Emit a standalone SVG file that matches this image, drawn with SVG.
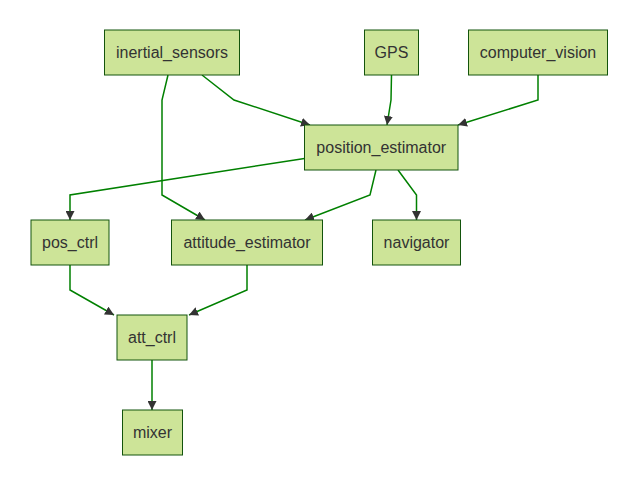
<svg xmlns="http://www.w3.org/2000/svg" width="631" height="484" viewBox="0 0 631 484">
<style>
.node rect{fill:#cde498;stroke:#13540c;stroke-width:1}
.node text{font-family:"Liberation Sans",Arial,sans-serif;font-size:16px;fill:#333;text-anchor:middle;dominant-baseline:central}
.edges path{fill:none;stroke:#008000;stroke-width:1.5;marker-end:url(#arrow)}
</style>
<defs>
<marker id="arrow" viewBox="0 0 10 10" refX="10" refY="5" markerWidth="9" markerHeight="9" markerUnits="userSpaceOnUse" orient="auto">
<path d="M0,0 L10,5 L0,10 z" fill="#333"/>
</marker>
</defs>
<rect width="631" height="484" fill="#ffffff"/>
<g class="edges">
<path d="M202,75 L234,100 L310,125"/>
<path d="M168,75 L162,100 L162,195 L205,220"/>
<path d="M391.5,75 L391,100 L387,125"/>
<path d="M538,75 L538,100 L458,125"/>
<path d="M304.5,158.5 L70,195 L70,220"/>
<path d="M376,170 L370,195 L305,220"/>
<path d="M398,170 L416.5,195 L416.5,220"/>
<path d="M70,265 L70,290 L114,315"/>
<path d="M247,265 L247,290 L189,315"/>
<path d="M152,360 L152,410"/>
</g>
<g id="inertial_sensors" class="node"><rect x="104.5" y="30" width="135" height="45"/><text x="172" y="52.5">inertial_sensors</text></g>
<g id="GPS" class="node"><rect x="364.5" y="30" width="54" height="45"/><text x="391.5" y="52.5">GPS</text></g>
<g id="computer_vision" class="node"><rect x="468.5" y="30" width="139" height="45"/><text x="538" y="52.5">computer_vision</text></g>
<g id="position_estimator" class="node"><rect x="304.5" y="125" width="153.5" height="45"/><text x="381.25" y="147.5">position_estimator</text></g>
<g id="pos_ctrl" class="node"><rect x="31" y="220" width="78" height="45"/><text x="70" y="242.5">pos_ctrl</text></g>
<g id="attitude_estimator" class="node"><rect x="171.5" y="220" width="151" height="45"/><text x="247" y="242.5">attitude_estimator</text></g>
<g id="navigator" class="node"><rect x="372.5" y="220" width="88" height="45"/><text x="416.5" y="242.5">navigator</text></g>
<g id="att_ctrl" class="node"><rect x="117" y="315" width="70" height="45"/><text x="152" y="337.5">att_ctrl</text></g>
<g id="mixer" class="node"><rect x="122.5" y="410" width="60" height="45"/><text x="152.5" y="432.5">mixer</text></g>
</svg>
